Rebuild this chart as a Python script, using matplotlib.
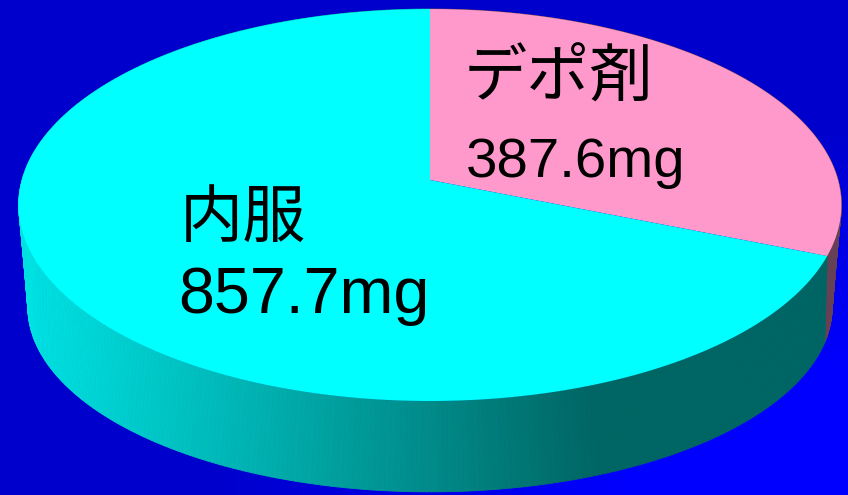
import numpy as np
import matplotlib
matplotlib.use("Agg")
import matplotlib.pyplot as plt
from matplotlib.collections import PolyCollection
from matplotlib.colors import LinearSegmentedColormap

labels = ["デポ剤", "内服"]
doses = [387.6, 857.7]
units = "mg"
top_colors = ["#ff99cc", "#00ffff"]

fonts = ["Liberation Sans", "Noto Sans CJK JP"]


def disc(theta, cy, ax_x, ax_y, k):
    # perspective view of a circle, theta runs clockwise from 12 o'clock
    u, v = np.sin(theta), np.cos(theta)
    w = 1 + k * v
    return 430 + ax_x * u / w, cy - ax_y * v / w


def top(theta):
    return disc(theta, 180, 408, 192.8, 0.1276)


def bottom(theta):
    return disc(theta, 270, 394, 177.5, 0.2)


def wall_color(x, base):
    t = np.clip((x - 27) / (600 - 27), 0, 1)
    return base[0] + (base[1] - base[0]) * t


fig = plt.figure(figsize=(8.48, 4.95), dpi=100)
ax = fig.add_axes([0, 0, 1, 1])
ax.set_xlim(0, 848)
ax.set_ylim(495, 0)
ax.axis("off")

# background only brightens towards the lower right corner
bg = LinearSegmentedColormap.from_list("bg", ["#0000cc", "#0000ff"])
ramp = np.array([[0.0, 0.0], [0.0, 1.0]])
ax.imshow(ramp, extent=(0, 848, 495, 0), cmap=bg, vmin=0, vmax=1,
          interpolation="bilinear", aspect="auto", zorder=0)

fractions = np.array(doses) / sum(doses)
edges = np.concatenate([[0], np.cumsum(fractions)]) * 2 * np.pi

wall_bases = [
    (np.array([0.45, 0.28, 0.37]), np.array([0.40, 0.25, 0.33])),
    (np.array([0.0, 0.89, 0.89]), np.array([0.0, 0.40, 0.39])),
]

# side wall, cut into thin quads so the shading runs across it
for i in range(2):
    th = np.linspace(edges[i], edges[i + 1], 400)
    xt, yt = top(th)
    xb, yb = bottom(th)
    quads = []
    cols = []
    for j in range(len(th) - 1):
        quads.append([(xt[j], yt[j]), (xt[j + 1], yt[j + 1]),
                      (xb[j + 1], yb[j + 1]), (xb[j], yb[j])])
        cols.append(wall_color(xb[j], wall_bases[i]))
    ax.add_collection(PolyCollection(quads, facecolors=cols, edgecolors=cols,
                                     linewidths=0.6, zorder=1))

# top face
for i in range(2):
    th = np.linspace(edges[i], edges[i + 1], 400)
    xt, yt = top(th)
    ax.fill(np.r_[430, xt], np.r_[180, yt], color=top_colors[i], lw=0, zorder=2)

ax.text(464, 97, labels[0], fontsize=45.5, family=fonts[::-1], va="baseline", zorder=3)
ax.text(466, 177, f"{doses[0]}{units}", fontsize=40.6, family=fonts, va="baseline", zorder=3)
ax.text(180, 237, labels[1], fontsize=45.5, family=fonts[::-1], va="baseline", zorder=3)
ax.text(178, 313, f"{doses[1]}{units}", fontsize=46.5, family=fonts, va="baseline", zorder=3)

fig.savefig("out.png", dpi=100)
